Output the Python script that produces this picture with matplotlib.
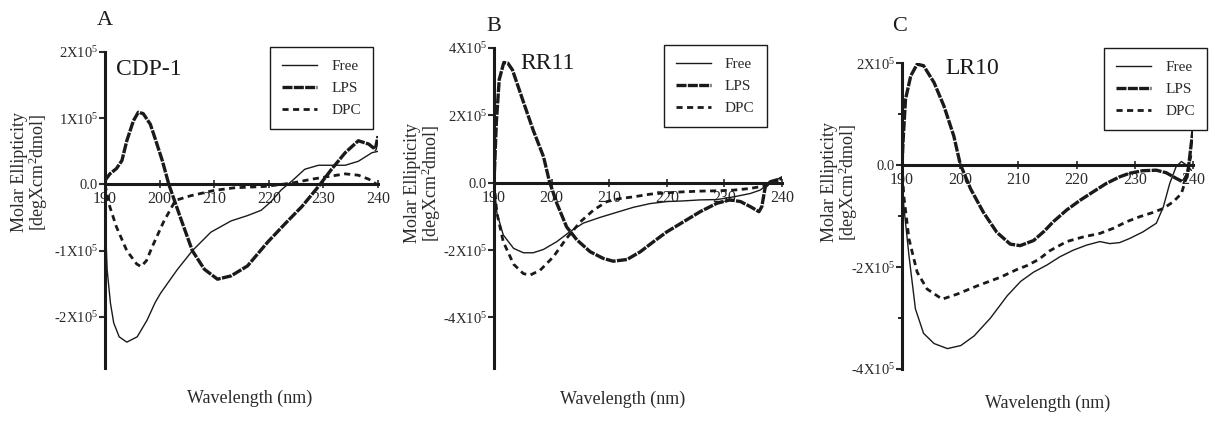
import numpy as np
import matplotlib.pyplot as plt

plt.rcParams['font.family'] = ['Liberation Serif', 'DejaVu Serif']
plt.rcParams['mathtext.fontset'] = 'custom'
plt.rcParams['mathtext.rm'] = 'Liberation Serif'
plt.rcParams['mathtext.it'] = 'Liberation Serif:italic'

# values, ellipticity in units of 1e5
# --- panel A : CDP-1 ---
a_free_x = [190, 190.1, 190.4, 191, 191.6, 192.6, 194.0, 195.9, 197.7, 199.2, 200.2, 202.0,
            203.2, 206.0, 209.4, 213.1, 216.1, 218.6, 220.4, 222.3, 224.2, 226.6, 229.1,
            231.5, 234, 236.4, 238.9, 240]
a_free_y = [0, -0.64, -1.29, -1.79, -2.09, -2.3, -2.38, -2.3, -2.05, -1.78, -1.64, -1.43,
            -1.29, -1.0, -0.72, -0.55, -0.47, -0.39, -0.26, -0.08, 0.05, 0.23, 0.29,
            0.29, 0.29, 0.35, 0.48, 0.5]
a_lps_x = [190, 190.9, 192.1, 193.1, 194, 195.2, 196.1, 197, 198.3, 199.2, 200.5, 201.7,
           203.9, 206, 208.2, 210.6, 213.1, 216.1, 219.8, 222.9, 226.1, 229.1, 231.5, 234,
           236.4, 238.3, 239.5, 240]
a_lps_y = [0.06, 0.16, 0.24, 0.36, 0.66, 0.96, 1.09, 1.07, 0.91, 0.69, 0.36, 0,
           -0.52, -1.0, -1.28, -1.43, -1.38, -1.23, -0.87, -0.6, -0.33, -0.03, 0.23, 0.48,
           0.66, 0.61, 0.53, 0.73]
a_dpc_x = [190, 190.9, 192.1, 194, 195.8, 196.6, 197.6, 198.6, 200.7, 202.9, 205.7, 210,
           213.7, 219.2, 222.3, 224.8, 227.9, 230.9, 234, 236.4, 238.3, 239.8]
a_dpc_y = [0, -0.34, -0.64, -1.0, -1.2, -1.24, -1.15, -0.95, -0.57, -0.24, -0.17, -0.09,
           -0.05, -0.03, 0, 0.03, 0.08, 0.12, 0.16, 0.14, 0.08, 0]

# --- panel B : RR11 ---
b_free_x = [190, 190.5, 191.6, 193.4, 195.1, 196.8, 198.6, 200.9, 203.2, 205.5, 208.4, 211.3,
            214.2, 217.1, 220, 222.9, 225.8, 228.7, 231.6, 234.5, 236.2, 237.4, 238.6, 240]
b_free_y = [0, -0.9, -1.55, -1.95, -2.08, -2.08, -1.98, -1.75, -1.45, -1.2, -1.03, -0.88,
            -0.73, -0.62, -0.56, -0.54, -0.51, -0.5, -0.42, -0.32, -0.22, -0.07, 0.03, 0.18]
b_lps_x = [190, 190.4, 190.9, 191.7, 192.4, 193.2, 193.9, 195.3, 196.8, 198.6, 199.6, 200.9,
           202.6, 204.4, 206.7, 209, 210.7, 213.1, 215.4, 217.7, 220, 222.9, 225.8, 228.7,
           231, 232.8, 234.5, 236, 236.5, 237.1, 238, 240]
b_lps_y = [0, 1.78, 3.06, 3.57, 3.55, 3.35, 3.0, 2.3, 1.56, 0.77, 0.05, -0.61,
           -1.31, -1.7, -2.05, -2.25, -2.33, -2.28, -2.05, -1.75, -1.46, -1.16, -0.86, -0.61,
           -0.51, -0.56, -0.71, -0.86, -0.71, -0.12, 0.03, 0.13]
b_dpc_x = [190, 190.5, 191.6, 193.4, 195.1, 196.3, 198, 200.3, 202.6, 205, 207.3, 209.6,
           211.9, 214.2, 217.1, 220, 222.9, 225.8, 228.7, 231.6, 234.5, 236.8, 238, 240]
b_dpc_y = [0, -0.9, -1.75, -2.42, -2.7, -2.74, -2.6, -2.2, -1.65, -1.16, -0.81, -0.56,
           -0.47, -0.42, -0.34, -0.3, -0.27, -0.25, -0.24, -0.22, -0.17, -0.1, 0, 0.08]

# --- panel C : LR10 ---
c_free_x = [190, 190.3, 191.2, 192.3, 193.7, 195.5, 197.8, 200.1, 202.4, 205.2, 208.1, 210.4,
            212.6, 214.9, 217.1, 219.4, 221.7, 224, 225.7, 227.4, 229.1, 231.4, 233.7,
            234.9, 236, 237.1, 238, 238.9, 239.7]
c_free_y = [0, -0.8, -1.78, -2.82, -3.3, -3.5, -3.6, -3.54, -3.35, -3.0, -2.56, -2.28,
            -2.1, -1.96, -1.8, -1.67, -1.57, -1.5, -1.54, -1.52, -1.44, -1.31, -1.14,
            -0.82, -0.36, -0.03, 0.07, 0, -0.1]
c_lps_x = [190, 190.2, 190.6, 191.5, 192.6, 193.7, 195.5, 197.2, 198.9, 200, 201.8, 204,
           206.3, 208.6, 210.3, 212.6, 214.4, 216, 218.3, 220.6, 222.9, 225.1, 227.4, 229.1,
           231.4, 233.7, 235.4, 237.1, 238.3, 239.1, 239.7, 240]
c_lps_y = [0, 0.51, 1.29, 1.75, 1.98, 1.95, 1.62, 1.16, 0.57, 0.02, -0.47, -0.93,
           -1.32, -1.55, -1.58, -1.48, -1.3, -1.11, -0.88, -0.69, -0.52, -0.36, -0.23, -0.16,
           -0.11, -0.1, -0.15, -0.26, -0.33, -0.16, 0.42, 0.69]
c_dpc_x = [190, 190.3, 191.2, 192.6, 194.3, 196.9, 199.5, 202.9, 206.9, 209.7, 211.5,
           213.5, 215.4, 218.3, 221.1, 224, 226.3, 228.6, 230.9, 233.1, 234.9, 236.6, 238,
           238.9, 239.7]
c_dpc_y = [0, -0.6, -1.45, -2.1, -2.43, -2.63, -2.53, -2.37, -2.2, -2.05, -1.97,
           -1.85, -1.68, -1.5, -1.41, -1.34, -1.24, -1.11, -1.01, -0.93, -0.85, -0.72, -0.56,
           -0.23, 0.23]

x_ticks = [190, 200, 210, 220, 230, 240]

ink = '#1a1a1a'
txt = '#2a2a2a'

fig = plt.figure(figsize=(12.15, 4.21), dpi=100)

panels = [
    dict(rect=[0.0864, 0.126, 0.2247, 0.7505], ylim=(-2.77, 2.0),
         yticks=[2, 1, 0, -1, -2], minor=[],
         ylabels=['2X10$^5$', '1X10$^5$', '0.0', '-1X10$^5$', '-2X10$^5$'],
         data=[(a_free_x, a_free_y), (a_lps_x, a_lps_y), (a_dpc_x, a_dpc_y)],
         name='CDP-1', name_pos=(0.04, 0.946), leg=(0.307, 0.888),
         ylab=(-0.20, 0.62), xlab=(0.53, -0.07), letter='A', letter_pos=(0.08, 0.952)),
    dict(rect=[0.4066, 0.126, 0.237, 0.760], ylim=(-5.5, 4.0),
         yticks=[4, 2, 0, -2, -4], minor=[],
         ylabels=['4X10$^5$', '2X10$^5$', '0.0', '-2X10$^5$', '-4X10$^5$'],
         data=[(b_free_x, b_free_y), (b_lps_x, b_lps_y), (b_dpc_x, b_dpc_y)],
         name='RR11', name_pos=(0.09, 0.953), leg=(0.631, 0.893),
         ylab=(-0.177, 0.578), xlab=(0.445, -0.072), letter='B', letter_pos=(0.400, 0.937)),
    dict(rect=[0.7424, 0.1235, 0.2395, 0.7265], ylim=(-4.0, 2.0),
         yticks=[2, 0, -2, -4], minor=[1, -1, -3],
         ylabels=['2X10$^5$', '0.0', '-2X10$^5$', '-4X10$^5$'],
         data=[(c_free_x, c_free_y), (c_lps_x, c_lps_y), (c_dpc_x, c_dpc_y)],
         name='LR10', name_pos=(0.148, 0.984), leg=(0.9934, 0.886),
         ylab=(-0.144, 0.61), xlab=(0.5, -0.085), letter='C', letter_pos=(0.734, 0.937)),
]

for p in panels:
    ax = fig.add_axes(p['rect'])
    (fx, fy), (lx, ly), (dx, dy) = p['data']
    ax.plot(fx, fy, color=ink, lw=1.0, label='Free')
    ax.plot(lx, ly, color=ink, lw=2.4, dashes=(3, 0.4), label='LPS')
    ax.plot(dx, dy, color=ink, lw=2.0, dashes=(2.2, 1.6), label='DPC')

    ax.set_xlim(190, 240)
    ax.set_ylim(*p['ylim'])
    for s in ['top', 'right']:
        ax.spines[s].set_visible(False)
    ax.spines['bottom'].set_position(('data', 0))
    ax.spines['left'].set_linewidth(2.2)
    ax.spines['bottom'].set_linewidth(2.2)
    ax.spines['left'].set_color(ink)
    ax.spines['bottom'].set_color(ink)

    ax.set_xticks(x_ticks)
    ax.set_xticklabels([str(t) for t in x_ticks])
    ax.set_yticks(p['yticks'])
    ax.set_yticklabels(p['ylabels'])
    if p['minor']:
        ax.set_yticks(p['minor'], minor=True)
    ax.tick_params(axis='x', direction='inout', length=6, width=1.2, pad=2,
                   labelsize=11.5, colors=txt)
    ax.tick_params(axis='y', direction='out', length=4, width=1.5, pad=1,
                   labelsize=10.5, colors=txt)
    ax.tick_params(axis='y', which='minor', direction='out', length=3, width=1.2)

    ax.set_ylabel('Molar Ellipticity\n[degXcm$^2$dmol]', fontsize=13, color=txt,
                  linespacing=0.95)
    ax.yaxis.set_label_coords(*p['ylab'])
    ax.set_xlabel('Wavelength (nm)', fontsize=13, color=txt)
    ax.xaxis.set_label_coords(*p['xlab'])

    ax.text(p['name_pos'][0], p['name_pos'][1], p['name'], transform=ax.transAxes,
            fontsize=17, color=ink, va='center', ha='left')

    leg = ax.legend(loc='upper right', bbox_to_anchor=p['leg'],
                    bbox_transform=fig.transFigure, borderaxespad=0, fontsize=11,
                    handlelength=2.3, handletextpad=0.9, labelspacing=0.55,
                    borderpad=0.8, fancybox=False, framealpha=1)
    leg.get_frame().set_edgecolor(ink)
    leg.get_frame().set_linewidth(1.0)
    for t in leg.get_texts():
        t.set_color(txt)

    fig.text(p['letter_pos'][0], p['letter_pos'][1], p['letter'], fontsize=16,
             color=ink, ha='left', va='center')

fig.savefig('out.png', dpi=100)
